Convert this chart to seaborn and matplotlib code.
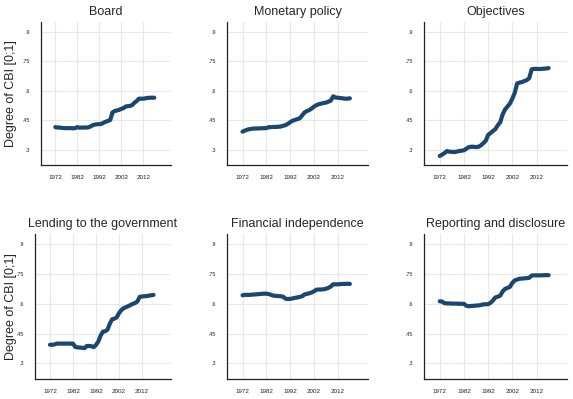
import numpy as np
import pandas as pd
import seaborn as sns
import matplotlib.pyplot as plt


# annual values, 1972-2017
years = list(range(1972, 2018))

board = [.415, .413, .413, .411, .410, .410, .410, .410, .409, .410,
         .415, .412, .413, .413, .413, .414, .418, .425, .428, .430,
         .430, .432, .438, .443, .447, .452, .490, .497, .500, .503,
         .508, .512, .520, .522, .523, .528, .540, .548, .560, .560,
         .560, .562, .564, .565, .565, .565]

monetary = [.392, .397, .402, .405, .407, .408, .408, .409, .409, .410,
            .410, .415, .415, .416, .416, .417, .418, .422, .425, .432,
            .440, .448, .452, .456, .460, .475, .490, .497, .502, .510,
            .520, .527, .532, .535, .538, .540, .545, .550, .572, .566,
            .565, .563, .562, .560, .560, .562]

objectives = [.268, .275, .283, .293, .290, .289, .288, .290, .293, .295,
              .297, .305, .313, .315, .315, .313, .315, .322, .333, .345,
              .375, .385, .395, .405, .425, .440, .480, .505, .520, .535,
              .560, .590, .638, .642, .645, .650, .655, .665, .710, .712,
              .712, .711, .712, .713, .714, .716]

lending = [.394, .394, .396, .400, .400, .400, .400, .400, .400, .400,
           .400, .383, .381, .380, .379, .377, .388, .388, .387, .382,
           .393, .410, .440, .460, .462, .470, .500, .522, .525, .532,
           .553, .568, .578, .583, .588, .594, .600, .604, .612, .635,
           .637, .638, .639, .641, .643, .645]

financial = [.643, .645, .645, .645, .646, .647, .648, .649, .650, .651,
             .651, .649, .645, .641, .640, .639, .638, .636, .626, .624,
             .625, .627, .630, .632, .635, .638, .647, .650, .653, .657,
             .663, .671, .672, .672, .673, .676, .680, .687, .698, .698,
             .698, .699, .700, .700, .701, .700]

reporting = [.613, .611, .603, .602, .602, .601, .601, .601, .600, .600,
             .600, .590, .588, .589, .590, .591, .592, .594, .597, .598,
             .598, .605, .617, .632, .636, .641, .662, .675, .680, .685,
             .705, .718, .722, .726, .727, .728, .729, .731, .742, .743,
             .743, .743, .743, .744, .744, .744]

titles = ["Board", "Monetary policy", "Objectives",
          "Lending to the government", "Financial independence",
          "Reporting and disclosure"]
series = [board, monetary, objectives, lending, financial, reporting]

xticks = [1972, 1982, 1992, 2002, 2012]
yticks = [.3, .45, .6, .75, .9]
yticklabels = [".3", ".45", ".6", ".75", ".9"]

sns.set_style("white")
plt.rcParams['font.family'] = ['Liberation Sans', 'DejaVu Sans']

W, H = 573, 399
fig = plt.figure(figsize=(W / 100, H / 100), dpi=100)

# axes boxes in pixels: left, top, right, bottom
boxes = [(41, 22, 171, 165), (227, 22, 368, 165), (424, 22, 567, 165),
         (35, 234, 171, 379), (227, 234, 368, 379), (424, 234, 567, 379)]

navy = "#1a476f"

for i, (title, vals) in enumerate(zip(titles, series)):
    l, t, r, b = boxes[i]
    ax = fig.add_axes([l / W, 1 - b / H, (r - l) / W, (b - t) / H])
    df = pd.DataFrame({"year": years, "cbi": vals})
    sns.lineplot(data=df, x="year", y="cbi", ax=ax, color=navy,
                 linewidth=3, solid_capstyle="round", solid_joinstyle="round")

    ax.set_xlim(1965.5, 2024.6)
    ax.set_ylim(0.222, 0.951)
    ax.set_xticks(xticks)
    ax.set_xticklabels([str(x) for x in xticks])
    ax.set_yticks(yticks)
    ax.set_yticklabels(yticklabels)
    ax.grid(True, color="#e8e8e8", linewidth=0.8)
    ax.set_axisbelow(True)
    ax.tick_params(axis="x", labelsize=4.5, colors="#222222",
                   length=2, width=0.6, pad=5.5, direction="out")
    ax.tick_params(axis="y", labelsize=3.8, colors="#222222",
                   length=3, width=0.6, pad=5, direction="out")
    sns.despine(ax=ax)
    for s in ["left", "bottom"]:
        ax.spines[s].set_color("#222222")
        ax.spines[s].set_linewidth(0.9)

    ax.set_title(title, fontsize=9, pad=5)
    ax.set_xlabel("")
    if i % 3 == 0:
        ax.set_ylabel("Degree of CBI [0;1]", fontsize=9)
        ax.yaxis.set_label_coords((17 - l) / (r - l), 0.5)
    else:
        ax.set_ylabel("")

fig.savefig("out.png", dpi=100)
